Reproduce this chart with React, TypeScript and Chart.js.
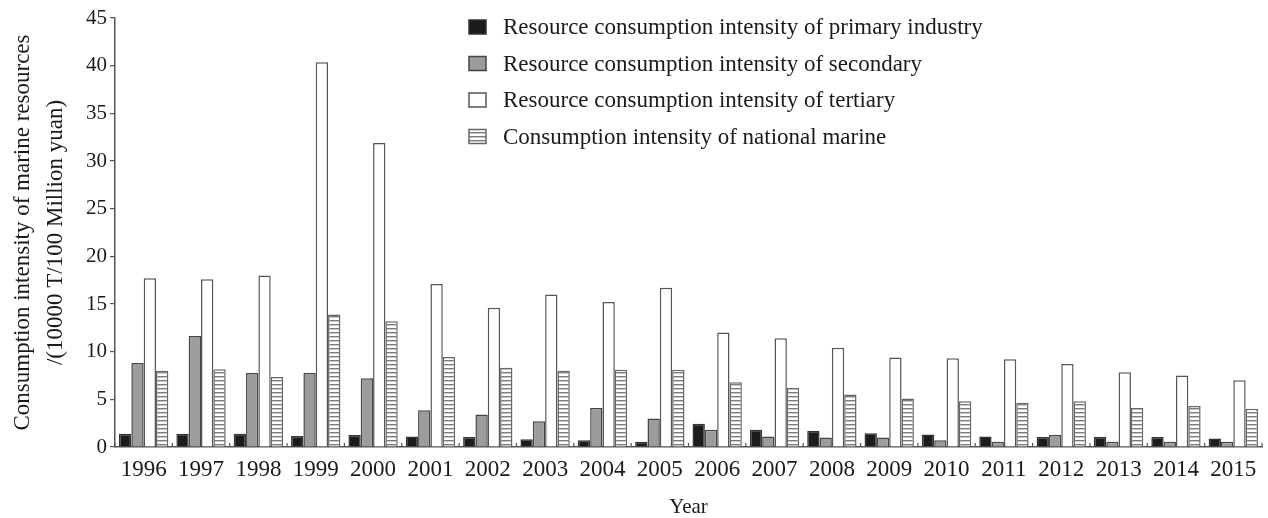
import React, { useEffect, useRef } from "react";
import { Chart, registerables } from "chart.js";

Chart.register(...registerables);

const years = ["1996","1997","1998","1999","2000","2001","2002","2003","2004","2005","2006","2007","2008","2009","2010","2011","2012","2013","2014","2015"];
const primary = [1.4,1.4,1.4,1.15,1.25,1.1,1.05,0.8,0.7,0.55,2.45,1.8,1.7,1.45,1.3,1.1,1.05,1.05,1.05,0.9];
const secondary = [8.8,11.65,7.75,7.75,7.2,3.85,3.4,2.7,4.1,3.0,1.8,1.1,1.0,1.0,0.7,0.55,1.25,0.55,0.55,0.55];
const tertiary = [17.7,17.6,18.0,40.35,31.9,17.1,14.6,16.0,15.2,16.7,12.0,11.4,10.4,9.4,9.3,9.2,8.7,7.85,7.5,7.0];
const national = [8.0,8.15,7.35,13.9,13.2,9.45,8.3,8.0,8.1,8.1,6.8,6.2,5.5,5.1,4.8,4.65,4.8,4.1,4.3,4.0];

const seriesLabels = [
  "Resource consumption intensity of primary industry",
  "Resource consumption intensity of secondary",
  "Resource consumption intensity of tertiary",
  "Consumption intensity of national marine",
];
const yTitle = ["Consumption intensity of marine resources", "/(10000 T/100 Million yuan)"];
const xTitle = "Year";

const FONT = '"Liberation Serif", "Times New Roman", serif';
const TEXT = "#1a1a1a";
const AXIS = "#555555";

function makeStripes(): CanvasPattern | string {
  const c = document.createElement("canvas");
  c.width = 8;
  c.height = 4;
  const g = c.getContext("2d");
  if (!g) return "#ffffff";
  g.fillStyle = "#ffffff";
  g.fillRect(0, 0, 8, 4);
  g.fillStyle = "#7a7a7a";
  g.fillRect(0, 0, 8, 1.4);
  const p = g.createPattern(c, "repeat");
  return p || "#ffffff";
}

const legendPlugin = {
  id: "insideLegend",
  afterDraw(chart: any) {
    const ctx = chart.ctx;
    ctx.save();
    ctx.font = `23px ${FONT}`;
    ctx.textBaseline = "middle";
    ctx.textAlign = "left";
    chart.data.datasets.forEach((ds: any, i: number) => {
      const cy = 27 + i * 36.5;
      const bx = 469;
      const bw = 17;
      const bh = 14;
      ctx.fillStyle = ds.backgroundColor;
      ctx.fillRect(bx, cy - bh / 2, bw, bh);
      ctx.strokeStyle = ds.borderColor;
      ctx.lineWidth = 1.5;
      ctx.strokeRect(bx, cy - bh / 2, bw, bh);
      ctx.fillStyle = TEXT;
      ctx.fillText(ds.label, 503, cy + 1);
    });
    ctx.restore();
  },
};

const xTickPlugin = {
  id: "inwardTicks",
  afterDatasetsDraw(chart: any) {
    const xs = chart.scales.x;
    const n = xs.ticks.length;
    if (n < 2) return;
    const step = xs.getPixelForTick(1) - xs.getPixelForTick(0);
    const ctx = chart.ctx;
    ctx.save();
    ctx.strokeStyle = AXIS;
    ctx.lineWidth = 1.2;
    for (let i = 0; i <= n; i++) {
      const x = xs.getPixelForTick(0) - step / 2 + i * step;
      ctx.beginPath();
      ctx.moveTo(x, xs.top);
      ctx.lineTo(x, xs.top - 4);
      ctx.stroke();
    }
    ctx.restore();
  },
};

export default function App() {
  const ref = useRef<HTMLCanvasElement | null>(null);

  useEffect(() => {
    if (!ref.current) return;
    const stripes = makeStripes();
    const chart = new Chart(ref.current, {
      type: "bar",
      data: {
        labels: years,
        datasets: [
          { label: seriesLabels[0], data: primary, backgroundColor: "#1c1c1c", borderColor: "#333333", borderWidth: 1.5 },
          { label: seriesLabels[1], data: secondary, backgroundColor: "#9c9c9c", borderColor: "#444444", borderWidth: 1.5 },
          { label: seriesLabels[2], data: tertiary, backgroundColor: "#ffffff", borderColor: "#555555", borderWidth: 1.5 },
          { label: seriesLabels[3], data: national, backgroundColor: stripes as any, borderColor: "#666666", borderWidth: 1.5 },
        ],
      },
      options: {
        animation: false,
        responsive: true,
        maintainAspectRatio: false,
        layout: { padding: { top: 18, right: 6, left: 0, bottom: 0 } },
        datasets: { bar: { categoryPercentage: 0.86, barPercentage: 1.0 } },
        plugins: {
          legend: { display: false },
          tooltip: { enabled: false },
        },
        scales: {
          x: {
            grid: { display: true, drawOnChartArea: false, drawTicks: false },
            border: { display: true, color: AXIS, width: 1.5 },
            ticks: { color: TEXT, font: { family: FONT, size: 23 }, padding: 9, maxRotation: 0, autoSkip: false },
            title: { display: true, text: xTitle, color: TEXT, font: { family: FONT, size: 21 }, padding: { top: 0, bottom: -2 } },
            afterFit: (s: any) => { s.height = 71; },
          },
          y: {
            min: 0,
            max: 45,
            ticks: { stepSize: 5, color: TEXT, font: { family: FONT, size: 21 }, padding: 3 },
            grid: { display: true, drawOnChartArea: false, tickLength: 5, color: AXIS, lineWidth: 1.2 },
            border: { display: true, color: AXIS, width: 1.5 },
            title: {
              display: true,
              text: yTitle,
              color: TEXT,
              font: { family: FONT, size: 23, lineHeight: 1.43 },
              padding: { top: 7, bottom: 0 },
            },
            afterFit: (s: any) => { s.width = 115; },
          },
        },
      },
      plugins: [legendPlugin, xTickPlugin],
    });
    return () => chart.destroy();
  }, []);

  return (
    <div style={{ position: "absolute", left: 0, top: 0, width: 1268, height: 518, background: "#ffffff" }}>
      <canvas ref={ref} />
    </div>
  );
}
